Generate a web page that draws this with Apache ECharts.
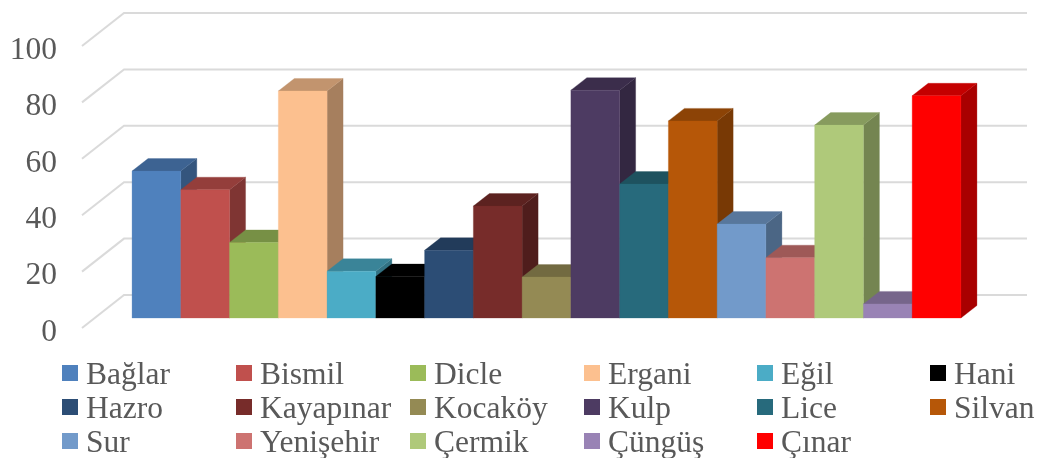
<!DOCTYPE html>
<html><head><meta charset="utf-8">
<style>html,body{margin:0;padding:0;background:#fff}#c{width:1044px;height:458px}</style>
<script src="https://cdn.jsdelivr.net/npm/echarts@6/dist/echarts.min.js"></script>
</head><body><div id="c"></div>
<script>
const districts = ['Bağlar','Bismil','Dicle','Ergani','Eğil','Hani','Hazro','Kayapınar','Kocaköy','Kulp','Lice','Silvan','Sur','Yenişehir','Çermik','Çüngüş','Çınar'];
const values = [52.1,45.5,26.8,80.5,16.6,14.7,24,39.7,14.5,80.8,47.5,69.9,33.3,21.4,68.4,5,78.8];
const colors = ['#4F81BD','#C0504D','#9BBB59','#FCC08F','#4BACC6','#000000','#2C4D75','#772C2A','#948A54','#4D3B62','#276A7C','#B65708','#729ACA','#CD7371','#AFC97A','#9983B5','#FF0000'];
const yTicks = [0,20,40,60,80,100];
const legendColumns = 6;
const legendX = [62,236,410,584,757,930];
const legendY = [356.5,390.5,424.5];

const font = '"Liberation Serif","Times New Roman",serif';
const textColor = '#595959';
const wallDepth = [42,-33], barShift = [13,-10], barDepth = [16,-12.5];
const xMin = -0.76, xMax = 17.76;

function shade(hex,f){
  const n = parseInt(hex.slice(1),16);
  return 'rgb('+[(n>>16)&255,(n>>8)&255,n&255].map(c=>Math.round(c*f)).join(',')+')';
}
function poly(points,fill,z){
  return {type:'polygon',shape:{points},style:{fill,stroke:fill,lineWidth:0.3},silent:true};
}
const wallSeries = {
  type:'custom', name:'walls', silent:true, clip:false, z:1,
  data: yTicks.map(v=>[xMin,v]),
  encode:{x:0,y:1},
  renderItem(params,api){
    const v = api.value(1);
    const a = api.coord([xMin,v]), b = api.coord([xMax,v]);
    const p0 = a, p1 = [a[0]+wallDepth[0],a[1]+wallDepth[1]], p2 = [b[0]+wallDepth[0],b[1]+wallDepth[1]];
    return {type:'polyline',shape:{points:[p0,p1,p2]},style:{fill:null,stroke:'#DADADA',lineWidth:2},silent:true};
  }
};
const barSeries = districts.map((name,i)=>({
  type:'custom', name, clip:false, z:2,
  itemStyle:{color:colors[i]},
  data:[[i,values[i]]],
  encode:{x:0,y:1},
  renderItem(params,api){
    const idx = api.value(0), v = api.value(1);
    const s = p=>[p[0]+barShift[0],p[1]+barShift[1]];
    const tl = s(api.coord([idx,v])), tr = s(api.coord([idx+1,v]));
    const bl = s(api.coord([idx,0])), br = s(api.coord([idx+1,0]));
    const d = p=>[p[0]+barDepth[0],p[1]+barDepth[1]];
    return {type:'group',children:[
      poly([tr,d(tr),d(br),br],shade(colors[i],0.66)),
      poly([tl,d(tl),d(tr),tr],shade(colors[i],0.77)),
      poly([tl,tr,br,bl],colors[i])
    ]};
  }
}));
const legends = districts.map((name,i)=>({
  orient:'horizontal',
  left:legendX[i%legendColumns], top:legendY[Math.floor(i/legendColumns)],
  itemWidth:16, itemHeight:16, icon:'rect', padding:0, selectedMode:false,
  data:[name],
  formatter: n => '{a|' + n + '}',
  textStyle:{rich:{a:{fontFamily:font,fontSize:31.5,color:textColor,height:27,lineHeight:27,padding:[6,0,0,3]}}}
}));
const chart = echarts.init(document.getElementById('c'),null,{renderer:'canvas'});
chart.setOption({
  animation:false,
  backgroundColor:'#fff',
  grid:{left:82,right:59,top:46,bottom:130},
  xAxis:{type:'value',min:xMin,max:xMax,show:false},
  yAxis:{type:'value',min:0,max:100,interval:20,
    axisLine:{show:false},axisTick:{show:false},splitLine:{show:false},
    axisLabel:{margin:25,formatter:'{a|{value}}',
      rich:{a:{fontFamily:font,fontSize:31.5,color:textColor,padding:[9,0,0,0]}}}},
  legend:legends,
  series:[wallSeries].concat(barSeries)
});
</script></body></html>
